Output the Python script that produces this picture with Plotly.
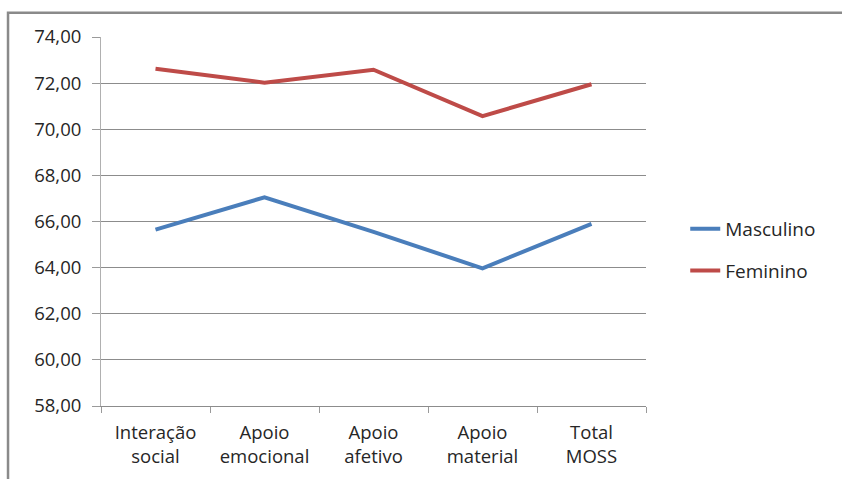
import plotly.graph_objects as go

categories = ["Interação<br>social", "Apoio<br>emocional", "Apoio<br>afetivo", "Apoio<br>material", "Total<br>MOSS"]
masculino = [65.65, 67.05, 65.55, 63.97, 65.90]
feminino = [72.62, 72.02, 72.58, 70.57, 71.95]
y_ticks = [58, 60, 62, 64, 66, 68, 70, 72, 74]
y_tick_labels = ["58,00", "60,00", "62,00", "64,00", "66,00", "68,00", "70,00", "72,00", "74,00"]

FONT = "Open Sans"
TEXT = "#262626"

fig = go.Figure()
fig.add_trace(go.Scatter(
    x=categories, y=masculino, name="Masculino", mode="lines",
    line=dict(color="#4A7EBB", width=4), legendgroup="m",
))
fig.add_trace(go.Scatter(
    x=categories, y=feminino, name="Feminino", mode="lines",
    line=dict(color="#BE4B48", width=4), legendgroup="f",
))

fig.update_layout(
    width=842, height=479,
    margin=dict(l=101, r=196, t=37, b=73),
    paper_bgcolor="white", plot_bgcolor="white",
    font=dict(family=FONT, size=18, color=TEXT),
    showlegend=True,
    legend=dict(
        x=1.072, y=0.423, xanchor="left", yanchor="middle",
        font=dict(family=FONT, size=19, color=TEXT),
        tracegroupgap=14, bgcolor="rgba(0,0,0,0)",
    ),
    xaxis=dict(
        type="category", tickson="boundaries", ticks="outside", ticklen=6,
        tickcolor="#9a9a9a", showline=True, linecolor="#8c8c8c", linewidth=1,
        showgrid=False, tickfont=dict(family=FONT, size=18.5, color=TEXT),
        range=[-0.5, 4.5], ticklabelstandoff=10,
    ),
    yaxis=dict(
        range=[58, 74], tickvals=y_ticks, ticktext=y_tick_labels,
        ticks="outside", ticklen=8, tickcolor="#9a9a9a",
        showline=True, linecolor="#b0b0b0", linewidth=1,
        showgrid=True, gridcolor="#8c8c8c", gridwidth=1, zeroline=False,
        tickfont=dict(family=FONT, size=18.5, color=TEXT), ticklabelstandoff=7,
    ),
    shapes=[dict(
        type="path", xref="paper", yref="paper",
        path="M -0.1706,-0.3 L -0.1706,1.0655 L 1.5,1.0655",
        line=dict(color="#8a8a8a", width=2.5), layer="above",
    )],
)

fig.write_html("out.html")
